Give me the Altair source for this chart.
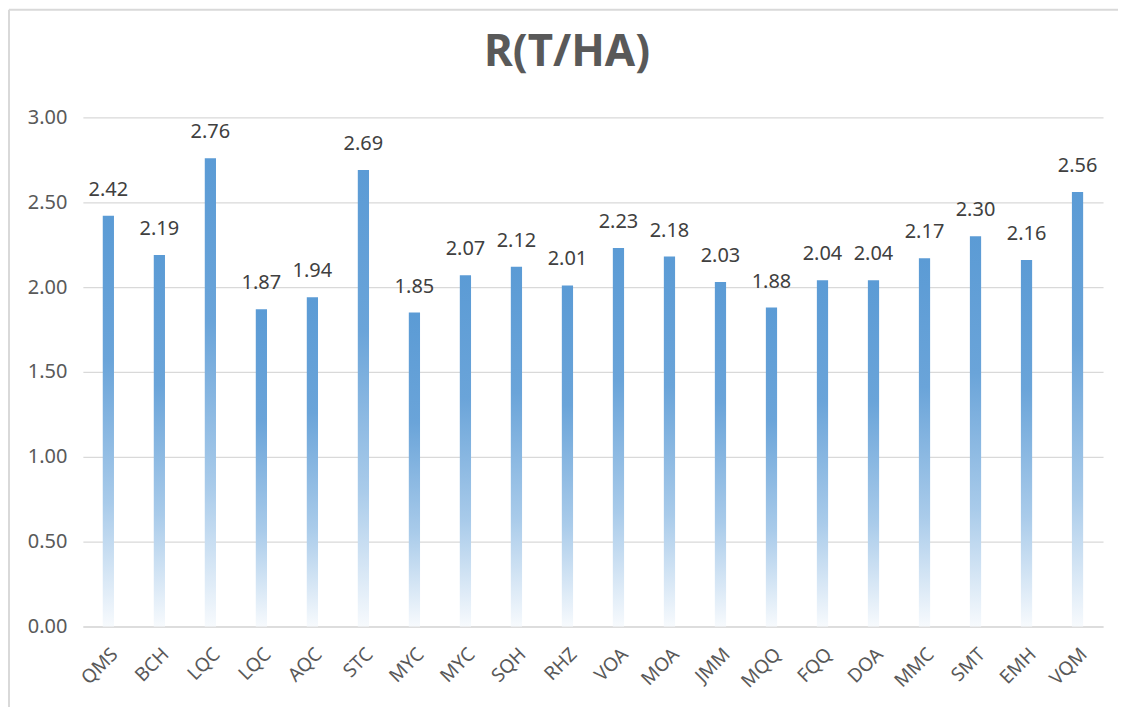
import altair as alt
import pandas as pd

categories = ["QMS", "BCH", "LQC", "LQC", "AQC", "STC", "MYC", "MYC", "SQH", "RHZ",
              "VOA", "MOA", "JMM", "MQQ", "FQQ", "DOA", "MMC", "SMT", "EMH", "VQM"]
values = [2.42, 2.19, 2.76, 1.87, 1.94, 2.69, 1.85, 2.07, 2.12, 2.01,
          2.23, 2.18, 2.03, 1.88, 2.04, 2.04, 2.17, 2.30, 2.16, 2.56]
y_ticks = [0, 0.5, 1.0, 1.5, 2.0, 2.5, 3.0]

df = pd.DataFrame({"i": list(range(len(categories))), "cat": categories, "val": values})

label_array = "[" + ",".join("'" + c + "'" for c in categories) + "]"

FONT = "Noto Sans"

x_enc = alt.X("i:O", sort=None, title=None,
              scale=alt.Scale(paddingInner=0.78, paddingOuter=0.39),
              axis=alt.Axis(labelExpr=label_array + "[datum.value]", labelAngle=-45,
                            labelAlign="right", labelBaseline="top", labelPadding=18,
                            labelFontSize=19, labelColor="#595959", labelFont=FONT,
                            ticks=False, domainColor="#D9D9D9", domainWidth=1.5, grid=False))
y_enc = alt.Y("val:Q", title=None,
              scale=alt.Scale(domain=[0, 3], nice=False),
              axis=alt.Axis(values=y_ticks, format=".2f", labelFontSize=20, labelColor="#595959",
                            labelFont=FONT, labelPadding=16, ticks=False, domain=False,
                            gridColor="#D9D9D9", gridWidth=1.2))

grad = alt.Gradient(gradient="linear", x1=0, x2=0, y1=0, y2=1,
                    stops=[alt.GradientStop(color="#5B9BD5", offset=0),
                           alt.GradientStop(color="#6AA4D9", offset=0.35),
                           alt.GradientStop(color="#A9CBEA", offset=0.7),
                           alt.GradientStop(color="#F7FAFD", offset=1)])

bars = alt.Chart(df).mark_bar(fill=grad).encode(x=x_enc, y=y_enc)
labels = alt.Chart(df).mark_text(baseline="bottom", dy=-16, fontSize=20, color="#404040", font=FONT).encode(
    x=alt.X("i:O", sort=None), y="val:Q", text=alt.Text("val:Q", format=".2f"))

frame_df = pd.DataFrame({"k": [0]})
left_border = alt.Chart(frame_df).mark_rule(color="#D9D9D9", strokeWidth=2).encode(
    x=alt.value(-74), y=alt.value(-108), y2=alt.value(600))
top_border = alt.Chart(frame_df).mark_rule(color="#D9D9D9", strokeWidth=2).encode(
    x=alt.value(-74), x2=alt.value(1040), y=alt.value(-108))

chart = (bars + labels + left_border + top_border).properties(
    width=1022, height=510,
    title=alt.TitleParams("R(T/HA)", fontSize=44, fontWeight="bold", color="#595959", font=FONT,
                          anchor="middle", offset=-66, dx=-26),
    autosize=alt.AutoSizeParams(type="none"),
    padding={"left": 75, "top": 109, "right": 15, "bottom": 80},
    background="white",
).configure_view(stroke="transparent", strokeWidth=0)

chart.save("out.html", embed_options={"renderer": "svg", "actions": False})
